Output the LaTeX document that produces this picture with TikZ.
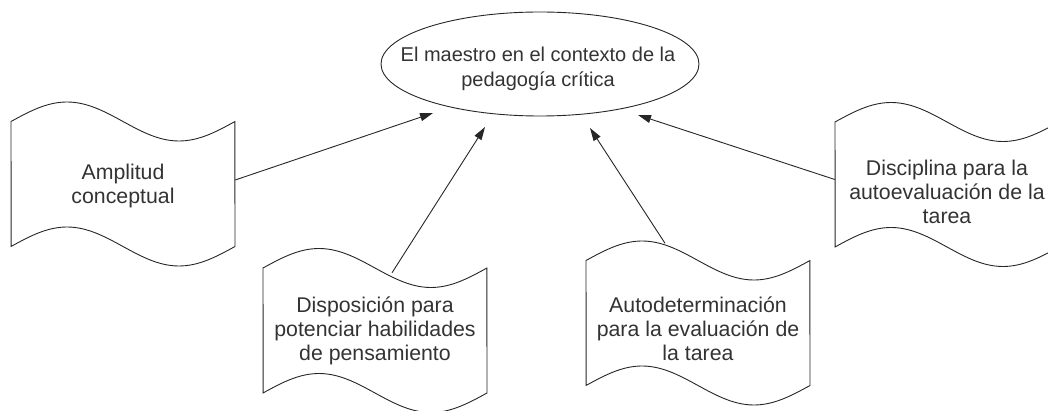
\documentclass[tikz,border=0pt]{standalone}
\usepackage{fontspec}
\setmainfont{Liberation Sans}
\usetikzlibrary{arrows.meta,calc,shapes.geometric}
\tikzset{
  txt/.style={align=center,font=\fontsize{21.3}{24}\selectfont,text=black!80,inner sep=0pt},
  etxt/.style={align=center,font=\fontsize{20}{24.5}\selectfont,text=black!80,inner sep=0pt},
  edgeline/.style={draw=black!85,line width=0.9pt},
  arr/.style={draw=black!85,line width=0.9pt,-{Triangle[length=13pt,width=8pt]}},
  tapenode/.style={minimum width=224pt,minimum height=125pt,inner sep=0pt},
}
\newcommand\tapebox[5]{%
  \node[tapenode] (#1) at (#2,#3) {};
  \draw[edgeline,shift={(#1.center)}]
    plot[domain=0:1,samples=60,smooth] ({-112+224*\x},{-62.5-19.5*sin(360*\x)})
    -- plot[domain=1:0,samples=60,smooth] ({-112+224*\x},{62.5-19.5*sin(360*\x)})
    -- cycle;
  \node[txt] (#1-t) at ($(#1.center)+(0,#5)$) {#4};
}
\begin{document}
\begin{tikzpicture}[x=1pt,y=-1pt]
\useasboundingbox (0,0) rectangle (1048,411);
\clip (0,0) rectangle (1048,411);

\node[ellipse,edgeline,minimum width=318pt,minimum height=104pt,inner sep=0pt] (m) at (540,64) {};
\node[etxt] (mt) at (538,69) {El maestro en el contexto de la\\pedagogía crítica};

\tapebox{b1}{123}{184}{Amplitud\\conceptual}{2}
\tapebox{b2}{375}{330.5}{Disposición para\\potenciar habilidades\\de pensamiento}{0}
\tapebox{b3}{698}{323}{Autodeterminación\\para la evaluación de\\la tarea}{6}
\tapebox{b4}{947}{184.5}{Disciplina para la\\autoevaluación de la\\tarea}{7}

\coordinate (e1) at ($(m.center)+(-107,49)$);
\coordinate (e2) at ($(m.center)+(-55,63)$);
\coordinate (e3) at ($(m.center)+(50,64)$);
\coordinate (e4) at ($(m.center)+(98,51)$);

\draw[arr] ($(b1.east)+(0,-4)$) -- (e1);
\draw[arr] ($(b2.north)+(17,5)$) -- (e2);
\draw[arr] ($(b3.north)+(-33,-17)$) -- (e3);
\draw[arr] ($(b4.west)+(0,-5)$) -- (e4);
\end{tikzpicture}
\end{document}
